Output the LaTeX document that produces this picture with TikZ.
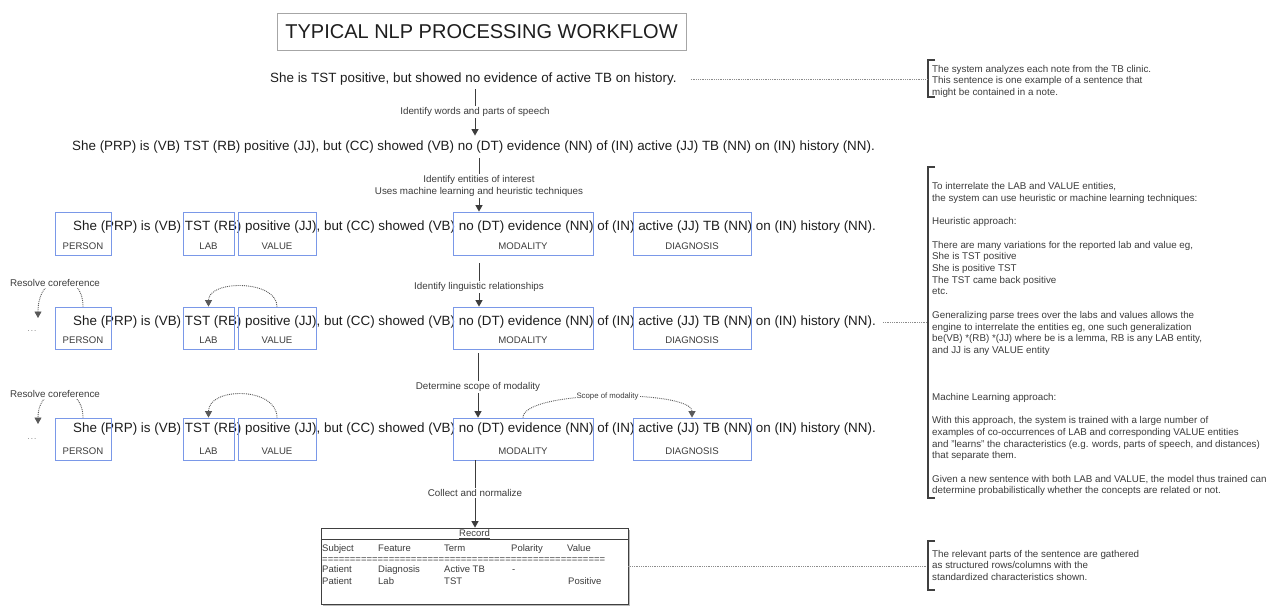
\documentclass[tikz,border=0pt]{standalone}
\usepackage{fontspec}
\setmainfont{Liberation Sans}
\usetikzlibrary{arrows.meta,shadows}
\definecolor{boxblue}{RGB}{122,152,232}
\definecolor{ink}{RGB}{30,30,30}
\definecolor{soft}{RGB}{60,60,60}
\newcommand\sentstr{She (PRP) is (VB) TST (RB) positive (JJ), but (CC) showed (VB) no (DT) evidence (NN) of (IN) active (JJ) TB (NN) on (IN) history (NN).}
\begin{document}
\begin{tikzpicture}[x=1pt,y=-1pt,
  sent/.style={font=\fontsize{13.4}{16}\selectfont, text=ink, inner sep=0pt, anchor=west},
  ebox/.style={draw=boxblue, line width=0.8pt, inner sep=0pt},
  elab/.style={font=\fontsize{9.6}{11}\selectfont, text=soft, inner sep=0pt},
  alab/.style={font=\fontsize{9.8}{12}\selectfont, text=soft, fill=white, inner sep=1.5pt},
  note/.style={font=\fontsize{9.8}{11.7}\selectfont, text=soft, align=left, anchor=north west, inner sep=0pt},
  flow/.style={draw=soft, line width=1pt, -{Triangle[width=7pt,length=6.5pt]}},
  rel/.style={draw=black!65, densely dotted, line width=0.9pt, -{Triangle[width=7pt,length=6.5pt]}},
  dotline/.style={draw=black!45, densely dotted, line width=0.8pt},
  brk/.style={draw=black!75, line width=1.6pt},
  dots/.style={font=\fontsize{8}{9}\selectfont, text=black!55, inner sep=0pt},
  tab/.style={font=\fontsize{9.5}{11}\selectfont, text=soft, inner sep=0pt, anchor=base west}]
\useasboundingbox[fill=white] (0,0) rectangle (1280,606);

% title
\node[draw=black!35, line width=0.8pt, minimum width=409pt, minimum height=37pt, font=\fontsize{20}{24}\selectfont, text=ink] (title) at (481.5,31.5) {TYPICAL NLP PROCESSING WORKFLOW};

% sentences
\node[sent] (s1) at (270,79) {She is TST positive, but showed no evidence of active TB on history.};
\node[sent] (s2) at (72,147) {\sentstr};
\node[sent] (s3) at (73,227) {\sentstr};
\node[sent] (s4) at (73,322) {\sentstr};
\node[sent] (s5) at (73,429) {\sentstr};

% entity boxes and labels
\foreach \r/\cy/\h/\ly in {3/233.5/43/246, 4/328/42/340, 5/439/42/451}{
  \node[ebox, minimum width=56pt, minimum height=\h pt] (p\r) at (83,\cy) {};
  \node[ebox, minimum width=51pt, minimum height=\h pt] (l\r) at (208.5,\cy) {};
  \node[ebox, minimum width=78pt, minimum height=\h pt] (v\r) at (277,\cy) {};
  \node[ebox, minimum width=140pt, minimum height=\h pt] (m\r) at (523,\cy) {};
  \node[ebox, minimum width=118pt, minimum height=\h pt] (dg\r) at (692,\cy) {};
  \node[elab] (pl\r) at (83,\ly) {PERSON};
  \node[elab] (ll\r) at (208.5,\ly) {LAB};
  \node[elab] (vl\r) at (277,\ly) {VALUE};
  \node[elab] (ml\r) at (523,\ly) {MODALITY};
  \node[elab] (dl\r) at (692,\ly) {DIAGNOSIS};
}

% record
\node[draw=black!75, line width=0.8pt, fill=white, minimum width=307pt, minimum height=76pt, inner sep=0pt,
  drop shadow={shadow xshift=2pt, shadow yshift=-2pt, fill=black!45, opacity=0.6}] (rec) at (474.5,566) {};
\draw[draw=black!75, line width=0.8pt] (rec.west |- 0,539) -- (rec.east |- 0,539);
\node[font=\fontsize{9.5}{11}\selectfont, text=soft, inner sep=0pt] (rt) at (474.5,534) {\underline{Record}};
\node[tab] (h1) at (322,551.5) {Subject};
\node[tab] (h2) at (378,551.5) {Feature};
\node[tab] (h3) at (444,551.5) {Term};
\node[tab] (h4) at (511,551.5) {Polarity};
\node[tab] (h5) at (567,551.5) {Value};
\node[tab] (eq) at (322,562.5) {===================================================};
\node[tab] (r11) at (322,572.5) {Patient};
\node[tab] (r12) at (378,572.5) {Diagnosis};
\node[tab] (r13) at (444,572.5) {Active TB};
\node[tab] (r14) at (512,572.5) {-};
\node[tab] (r21) at (322,584.5) {Patient};
\node[tab] (r22) at (378,584.5) {Lab};
\node[tab] (r23) at (444,584.5) {TST};
\node[tab] (r25) at (568,584.5) {Positive};

% flow arrows with labels
\coordinate (x1) at (475,0);
\coordinate (x2) at (479,0);
\coordinate (x3) at (478,0);
\draw[flow, shorten <=4pt, shorten >=5pt] (x1 |- s1.south) -- (x1 |- s2.north);
\draw[flow, shorten <=5pt] (x2 |- s2.south) -- (x2 |- m3.north);
\draw[flow, shorten <=8pt] (x2 |- m3.south) -- (x2 |- m4.north);
\draw[flow, shorten <=4pt] (x3 |- m4.south) -- (x3 |- m5.north);
\draw[flow] (x1 |- m5.south) -- (x1 |- rec.north);
\node[alab] (t1) at (475,112) {Identify words and parts of speech};
\node[alab, align=center] (t2) at (479,186) {Identify entities of interest\\Uses machine learning and heuristic techniques};
\node[alab] (t3) at (479,287) {Identify linguistic relationships};
\node[alab] (t4) at (478,387) {Determine scope of modality};
\node[alab] (t5) at (475,493) {Collect and normalize};

% relation curves
\draw[rel] (v4.north) .. controls +(0,-27) and +(0,-27) .. (l4.north);
\draw[rel] (v5.north) .. controls +(0,-31) and +(0,-31) .. (l5.north);
\draw[rel] (m5.north) .. controls +(0,-28) and +(0,-28) .. (dg5.north)
  node[pos=0.5, fill=white, inner sep=1pt, font=\fontsize{7.8}{9}\selectfont, text=soft] (sc) {Scope of modality};

% coreference
\coordinate (c4) at (38,318);
\coordinate (c5) at (38,424);
\node[dots] (d4) at (32,331) {.\kern1pt.\kern1pt.};
\node[dots] (d5) at (32,439) {.\kern1pt.\kern1pt.};
\draw[rel] (p4.north) .. controls +(0,-37) and +(0,-48) .. (c4);
\draw[rel] (p5.north) .. controls +(0,-35) and +(0,-42) .. (c5);
\node[alab, inner sep=1pt] (rc4) at (55,283) {Resolve coreference};
\node[alab, inner sep=1pt] (rc5) at (55,394) {Resolve coreference};

% notes with brackets
\draw[brk] (935,60) -- (928,60) -- (928,97) -- (935,97);
\draw[brk] (935,167) -- (928,167) -- (928,498) -- (935,498);
\draw[brk] (935,541) -- (928,541) -- (928,590) -- (935,590);
\coordinate (b1) at (927,79);
\coordinate (b2) at (927,322);
\coordinate (b3) at (927,566);
\node[note] (n1) at (932,64.8) {The system analyzes each note from the TB clinic.\\This sentence is one example of a sentence that\\might be contained in a note.};
\node[note] (n2) at (932,182.3) {To interrelate the LAB and VALUE entities,\\
the system can use heuristic or machine learning techniques:\\[11.7pt]
Heuristic approach:\\[11.7pt]
There are many variations for the reported lab and value eg,\\
She is TST positive\\
She is positive TST\\
The TST came back positive\\
etc.\\[11.7pt]
Generalizing parse trees over the labs and values allows the\\
engine to interrelate the entities eg, one such generalization\\
be(VB) *(RB) *(JJ) where be is a lemma, RB is any LAB entity,\\
and JJ is any VALUE entity\\[35.1pt]
Machine Learning approach:\\[11.7pt]
With this approach, the system is trained with a large number of\\
examples of co-occurrences of LAB and corresponding VALUE entities\\
and "learns" the characteristics (e.g. words, parts of speech, and distances)\\
that separate them.\\[11.7pt]
Given a new sentence with both LAB and VALUE, the model thus trained can\\
determine probabilistically whether the concepts are related or not.};
\node[note] (n3) at (932,549.8) {The relevant parts of the sentence are gathered\\as structured rows/columns with the\\standardized characteristics shown.};
\draw[dotline, shorten <=14pt] (s1.east) -- (b1);
\draw[dotline, shorten <=7pt] (s4.east) -- (b2);
\draw[dotline] (rec.east) -- (b3);
\end{tikzpicture}
\end{document}
